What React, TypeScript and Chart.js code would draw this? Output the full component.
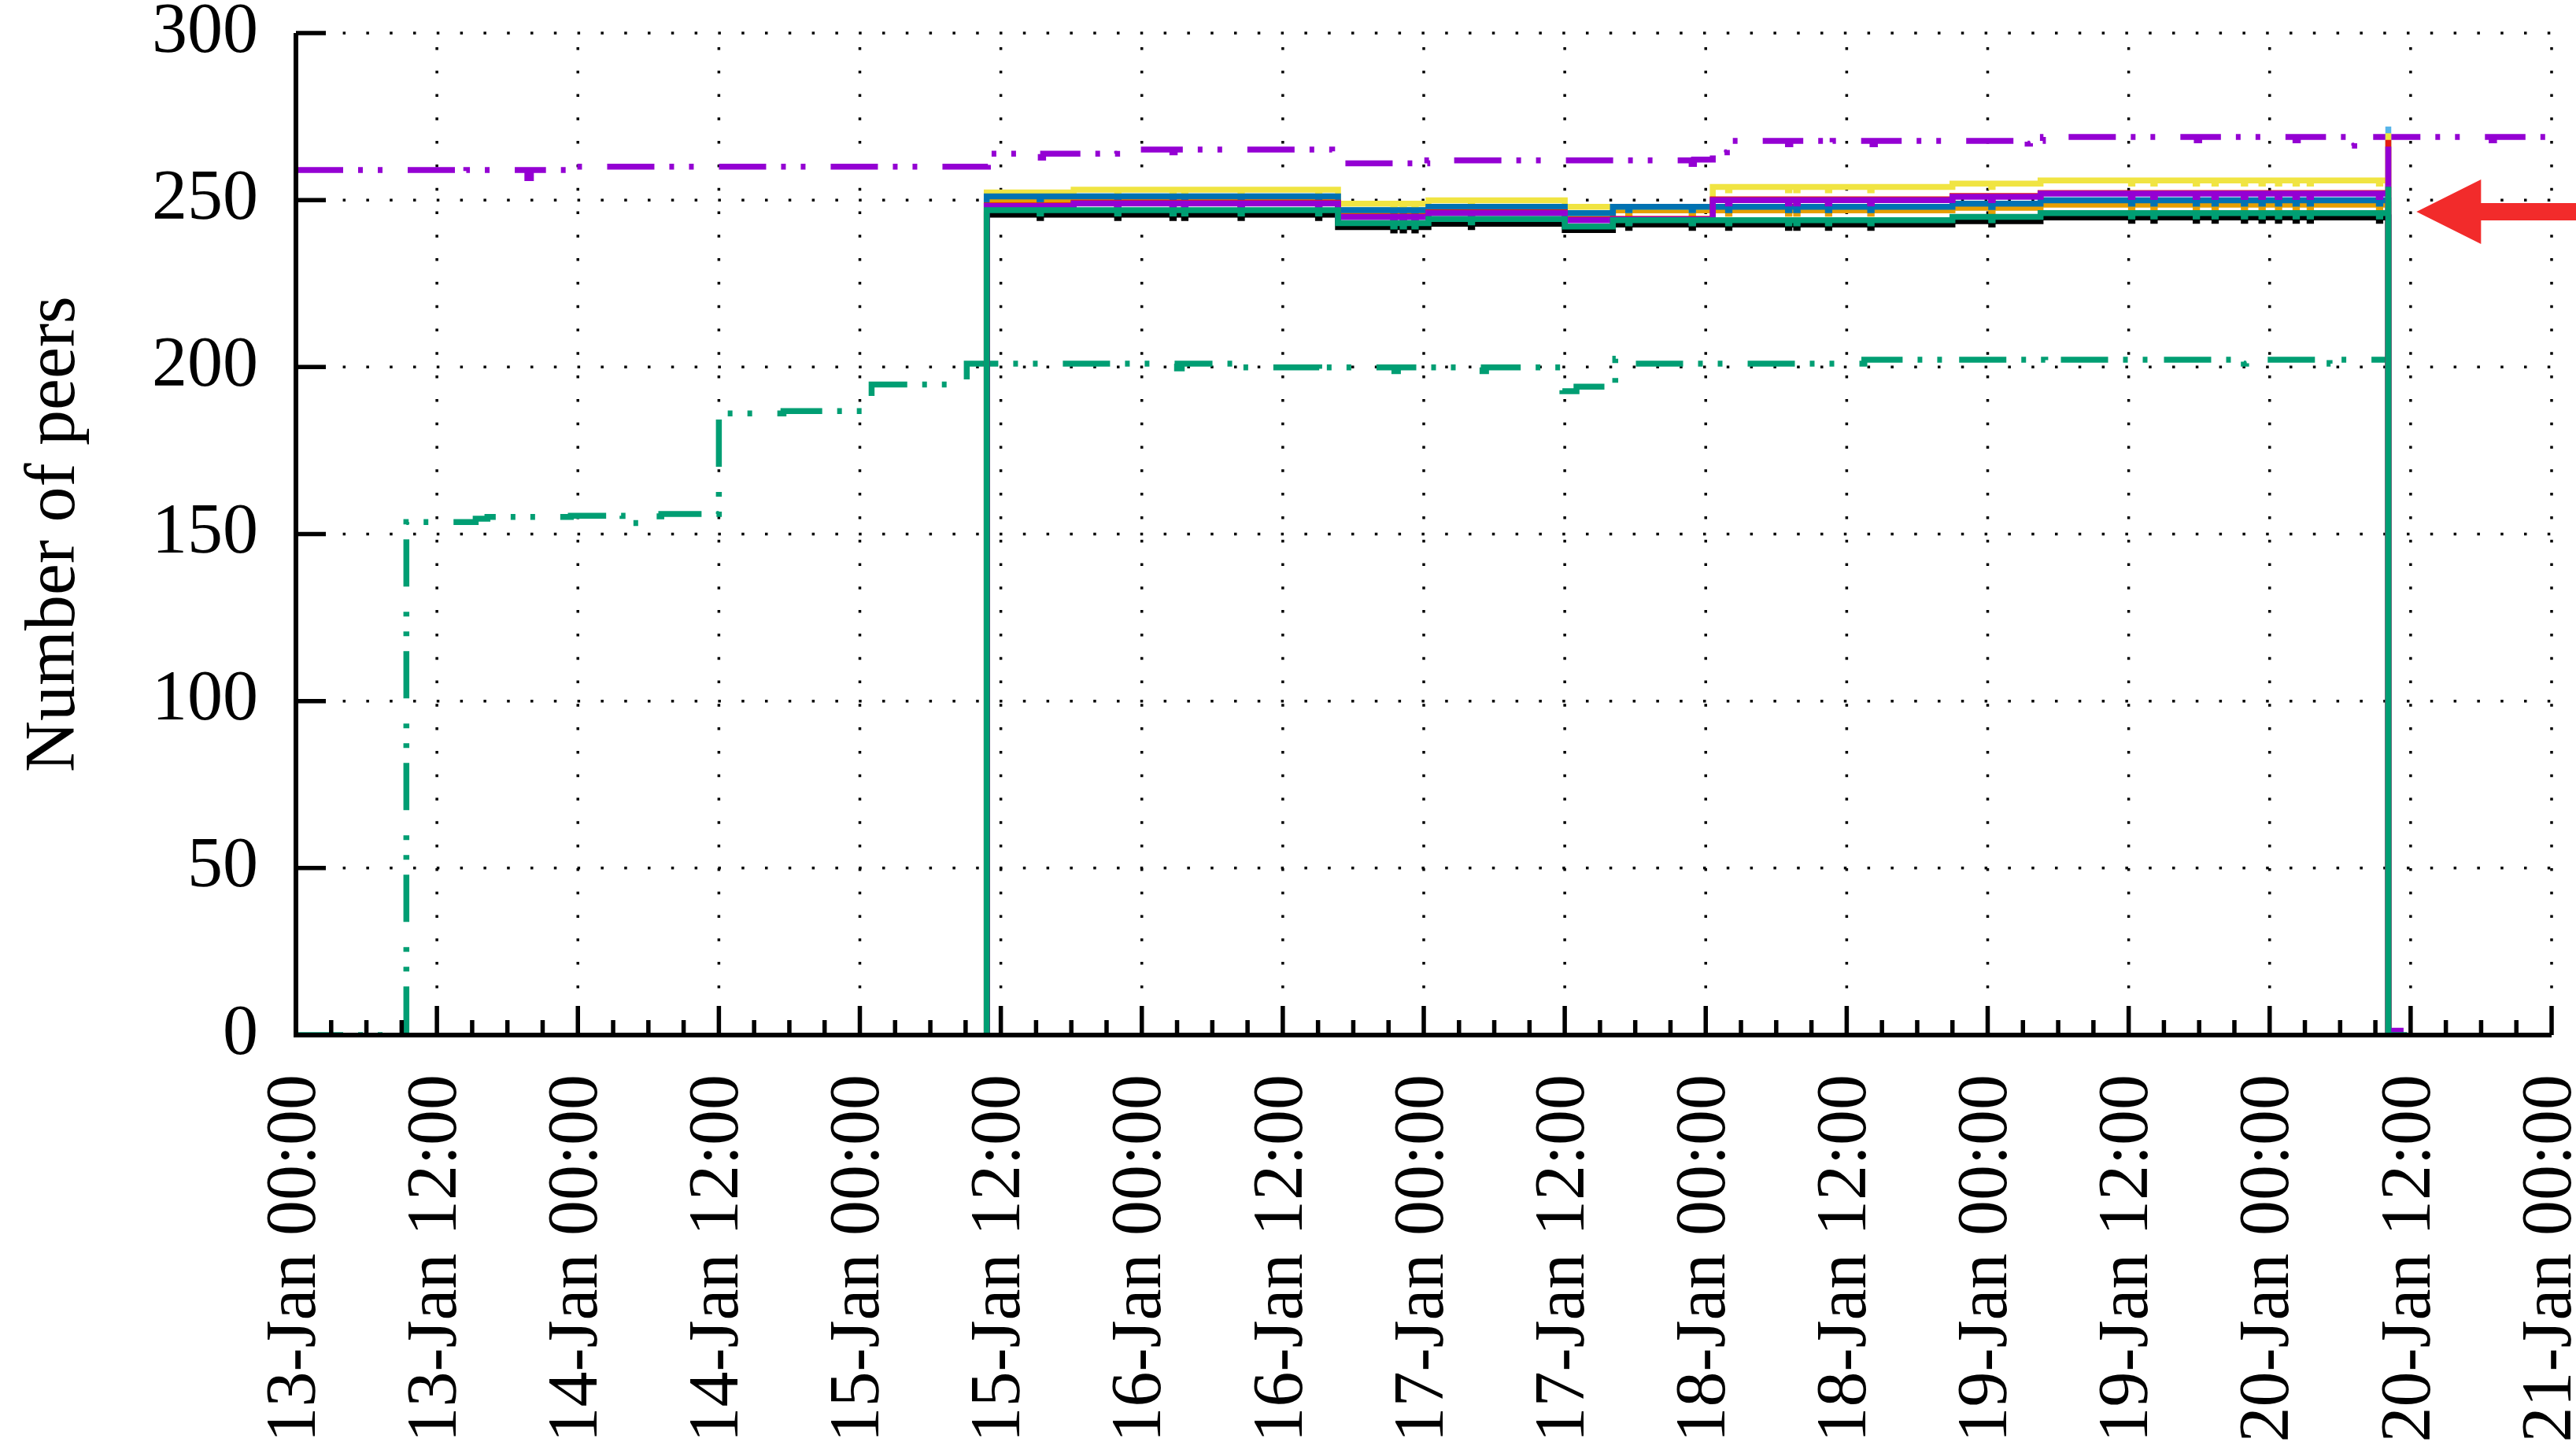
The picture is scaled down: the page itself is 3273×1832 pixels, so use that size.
import React, { useEffect, useRef } from 'react';
import { Chart, registerables } from 'chart.js';

Chart.register(...registerables);

const FONT = "'Liberation Serif', 'Times New Roman', Times, serif";
const FONT_SIZE = 90;

// x axis: hours since 13-Jan 00:00, a major tick every 12 h, minor every 3 h
const xTickHours = [0, 12, 24, 36, 48, 60, 72, 84, 96, 108, 120, 132, 144, 156, 168, 180, 192];
const xTickLabels = [
  '13-Jan 00:00', '13-Jan 12:00', '14-Jan 00:00', '14-Jan 12:00', '15-Jan 00:00',
  '15-Jan 12:00', '16-Jan 00:00', '16-Jan 12:00', '17-Jan 00:00', '17-Jan 12:00',
  '18-Jan 00:00', '18-Jan 12:00', '19-Jan 00:00', '19-Jan 12:00', '20-Jan 00:00',
  '20-Jan 12:00', '21-Jan 00:00',
];
const xMinorStepHours = 3;
const yTickValues = [0, 50, 100, 150, 200, 250, 300];

// dash-dotted series as [hour, peers]; each value holds until the next entry
const purpleDashSteps: [number, number][] = [
  [0, 259.0], [14.3, 258.3], [14.5, 259.0], [19.7, 256.6], [20.0, 259.0], [23.9, 260.0],
  [58.9, 263.9], [63.4, 262.7], [63.6, 263.9], [69.9, 265.1], [74.6, 264.3], [74.8, 265.1],
  [88.2, 261.0], [96.3, 261.9], [118.8, 260.8], [119.0, 262.1], [120.6, 264.3], [121.8, 267.7],
  [127.0, 266.7], [127.2, 267.7], [130.6, 266.7], [130.8, 267.7], [134.2, 266.7], [134.4, 267.7],
  [147.4, 266.9], [147.6, 267.7], [148.7, 268.9], [161.8, 267.9], [162.0, 268.9],
  [170.2, 267.9], [170.4, 268.9], [175.0, 266.3], [175.2, 268.9], [186.9, 267.9],
  [187.1, 268.9], [192.0, 268.9],
];

const greenDashSteps: [number, number][] = [
  [0, 0], [9.4, 153.6], [15.3, 154.6], [16.3, 155.1], [23.4, 155.5], [27.8, 153.3],
  [29.8, 155.3], [31.1, 156.0], [36.0, 186.1], [41.5, 186.8], [49.0, 194.8], [57.1, 201.0],
  [75.0, 199.6], [75.4, 201.0], [80.0, 199.9], [87.1, 198.6], [87.3, 199.9], [93.5, 198.8],
  [93.8, 199.9], [101.0, 198.8], [101.3, 199.9], [107.8, 192.8], [109.0, 194.1],
  [112.3, 202.5], [112.5, 201.0], [133.5, 202.2], [141.3, 201.0], [141.5, 202.2],
  [148.9, 200.7], [149.1, 202.2], [158.0, 200.9], [158.2, 202.2], [165.8, 201.0],
  [166.0, 202.2], [173.1, 201.0], [173.3, 202.2], [178.1, 202.2],
];

// solid series: all start, change level and stop at the same hours
const solidStartHour = 58.7;
const solidEndHour = 178.1;
const solidBreakHours = [58.8, 66.2, 88.7, 96.4, 108.0, 112.1, 120.6, 141.0, 148.5];

const lightBlueLevels = [251.1, 251.1, 247.0, 248.0, 246.1, 248.0, 248.0, 248.9, 249.9];
const orangeLevels = [249.7, 249.7, 246.2, 247.0, 246.1, 246.9, 246.9, 247.7, 248.6];
const yellowLevels = [252.3, 253.1, 248.9, 249.9, 248.0, 248.0, 253.9, 254.9, 255.9];
const blueLevels = [251.1, 251.1, 247.0, 248.0, 246.1, 248.0, 248.0, 248.9, 249.9];
const redLevels = [248.4, 249.2, 245.1, 246.3, 244.2, 244.4, 250.2, 251.2, 252.1];
const blackLevels = [245.6, 245.6, 241.9, 242.9, 241.0, 242.7, 242.7, 243.7, 244.8];
const purpleLevels = [248.2, 249.0, 244.9, 246.1, 244.0, 244.2, 250.0, 251.0, 251.9];
const greenLevels = [247.0, 247.0, 243.1, 244.3, 242.1, 244.0, 244.0, 245.0, 246.1];

// short one-peer dips shared by the solid series
const solidDipHours = [
  63.3, 69.9, 74.6, 75.6, 80.4, 87.0, 93.4, 94.2, 95.2, 100.0, 113.4, 118.8, 121.9,
  127.0, 127.7, 130.4, 134.0, 144.3, 156.2, 158.1, 161.7, 163.3, 165.8, 167.3, 168.7,
  170.2, 171.4, 177.3,
];

// last reading of each solid series before it falls to zero
const lightBluePeak = 272;
const yellowPeak = 270;
const redPeak = 268;
const purplePeak = 266;
const greenPeak = 254;

// readings after the drop
const purpleTail: [number, number][] = [[178.5, 1.3], [179.4, 1.3]];
const greenTail: [number, number][] = [[179.7, 0]];

// arrow annotation pointing at the end of the solid series
const arrowTip = { hour: 180.5, peers: 246.5 };

const COLORS = {
  purple: '#9400d3',
  green: '#009e73',
  lightBlue: '#56b4e9',
  orange: '#e69f00',
  yellow: '#f0e442',
  blue: '#0072b2',
  red: '#e51e10',
  black: '#000000',
  arrow: '#f22b2b',
};

const DASH_DOT_DOT = [60, 19, 6, 19, 6, 32];
const LINE_WIDTH = 7.5;

type Pt = { x: number; y: number };

function stepsToPoints(steps: [number, number][]): Pt[] {
  return steps.map(([x, y]) => ({ x, y }));
}

function solidPoints(levels: number[], peak: number | null, tail: [number, number][]): Pt[] {
  const pts: Pt[] = [{ x: solidStartHour, y: 0 }];
  solidBreakHours.forEach((h, i) => {
    const level = levels[i];
    pts.push({ x: h, y: level });
    const next = i + 1 < solidBreakHours.length ? solidBreakHours[i + 1] : solidEndHour;
    for (const d of solidDipHours) {
      if (d > h + 0.3 && d + 0.12 < next - 0.3) {
        pts.push({ x: d, y: level - 1 }, { x: d + 0.12, y: level });
      }
    }
  });
  if (peak !== null) pts.push({ x: solidEndHour, y: peak });
  pts.push({ x: solidEndHour, y: 0 });
  tail.forEach(([x, y]) => pts.push({ x, y }));
  return pts;
}

// dotted grid underneath, axes with inward ticks and the arrow on top
const frame = {
  id: 'frame',
  beforeDatasetsDraw(chart: any) {
    const { ctx, chartArea, scales } = chart;
    const x = scales.x;
    const y = scales.y;
    ctx.save();
    ctx.strokeStyle = '#000';
    ctx.lineWidth = 3.5;
    ctx.lineCap = 'butt';
    ctx.setLineDash([3.5, 26.3]);
    for (const v of yTickValues) {
      if (v === 0) continue;
      const py = y.getPixelForValue(v);
      ctx.beginPath();
      ctx.moveTo(chartArea.left, py);
      ctx.lineTo(chartArea.right, py);
      ctx.stroke();
    }
    for (const h of xTickHours) {
      if (h === 0) continue;
      const px = x.getPixelForValue(h);
      ctx.beginPath();
      ctx.moveTo(px, chartArea.bottom);
      ctx.lineTo(px, chartArea.top);
      ctx.stroke();
    }
    ctx.restore();
  },
  afterDatasetsDraw(chart: any) {
    const { ctx, chartArea, scales } = chart;
    const x = scales.x;
    const y = scales.y;
    const { left, right, top, bottom } = chartArea;
    ctx.save();
    ctx.setLineDash([]);
    ctx.strokeStyle = '#000';
    ctx.lineWidth = 6;
    ctx.lineJoin = 'miter';
    ctx.lineCap = 'butt';
    ctx.beginPath();
    ctx.moveTo(left, top);
    ctx.lineTo(left, bottom);
    ctx.lineTo(right, bottom);
    ctx.stroke();

    ctx.lineWidth = 5.5;
    ctx.beginPath();
    for (const v of yTickValues) {
      const py = y.getPixelForValue(v);
      ctx.moveTo(left, py);
      ctx.lineTo(left + 38, py);
    }
    for (const h of xTickHours) {
      const px = x.getPixelForValue(h);
      ctx.moveTo(px, bottom);
      ctx.lineTo(px, bottom - 37);
    }
    for (let h = xMinorStepHours; h < xTickHours[xTickHours.length - 1]; h += xMinorStepHours) {
      if (h % 12 === 0) continue;
      const px = x.getPixelForValue(h);
      ctx.moveTo(px, bottom);
      ctx.lineTo(px, bottom - 19);
    }
    ctx.stroke();

    const tx = x.getPixelForValue(arrowTip.hour);
    const ty = y.getPixelForValue(arrowTip.peers);
    const headLen = 82;
    const headHalf = 41;
    const shaftHalf = 11;
    ctx.fillStyle = COLORS.arrow;
    ctx.beginPath();
    ctx.moveTo(tx, ty);
    ctx.lineTo(tx + headLen, ty - headHalf);
    ctx.lineTo(tx + headLen, ty - shaftHalf);
    ctx.lineTo(chart.width + 5, ty - shaftHalf);
    ctx.lineTo(chart.width + 5, ty + shaftHalf);
    ctx.lineTo(tx + headLen, ty + shaftHalf);
    ctx.lineTo(tx + headLen, ty + headHalf);
    ctx.closePath();
    ctx.fill();
    ctx.restore();
  },
};

export default function App() {
  const canvasRef = useRef<HTMLCanvasElement | null>(null);

  useEffect(() => {
    document.body.style.margin = '0';
    document.body.style.overflow = 'hidden';
    const canvas = canvasRef.current;
    if (!canvas) return;

    // drawn in this order, later series on top
    const series = [
      { data: stepsToPoints(purpleDashSteps), color: COLORS.purple, dash: DASH_DOT_DOT },
      { data: stepsToPoints(greenDashSteps), color: COLORS.green, dash: DASH_DOT_DOT },
      { data: solidPoints(lightBlueLevels, lightBluePeak, []), color: COLORS.lightBlue, dash: [] },
      { data: solidPoints(orangeLevels, null, []), color: COLORS.orange, dash: [] },
      { data: solidPoints(yellowLevels, yellowPeak, []), color: COLORS.yellow, dash: [] },
      { data: solidPoints(blueLevels, null, []), color: COLORS.blue, dash: [] },
      { data: solidPoints(redLevels, redPeak, []), color: COLORS.red, dash: [] },
      { data: solidPoints(blackLevels, null, []), color: COLORS.black, dash: [] },
      { data: solidPoints(purpleLevels, purplePeak, purpleTail), color: COLORS.purple, dash: [] },
      { data: solidPoints(greenLevels, greenPeak, greenTail), color: COLORS.green, dash: [] },
    ];

    const datasets = series.map((s, i) => ({
      data: s.data,
      borderColor: s.color,
      backgroundColor: s.color,
      borderWidth: LINE_WIDTH,
      borderDash: s.dash,
      borderCapStyle: 'butt' as const,
      borderJoinStyle: 'miter' as const,
      stepped: 'before' as const,
      pointRadius: 0,
      pointHoverRadius: 0,
      fill: false,
      order: series.length - i,
    }));

    const tickFont = { family: FONT, size: FONT_SIZE };

    const chart = new Chart(canvas, {
      type: 'line',
      data: { datasets },
      options: {
        animation: false,
        responsive: false,
        devicePixelRatio: 1,
        events: [],
        layout: { padding: { left: 0, right: 31, top: 42, bottom: 0 } },
        plugins: { legend: { display: false }, tooltip: { enabled: false } },
        scales: {
          x: {
            type: 'linear',
            min: 0,
            max: 192,
            afterBuildTicks: (s: any) => {
              s.ticks = xTickHours.map((v) => ({ value: v }));
            },
            afterFit: (s: any) => {
              s.height = 517;
              s.paddingLeft = 0;
              s.paddingRight = 0;
              s.paddingTop = 0;
              s.paddingBottom = 0;
            },
            grid: { display: false, drawTicks: false },
            border: { display: false },
            ticks: {
              autoSkip: false,
              minRotation: 90,
              maxRotation: 90,
              padding: 50,
              color: '#000',
              font: tickFont,
              callback: (_v: any, index: number) => xTickLabels[index],
            },
          },
          y: {
            type: 'linear',
            min: 0,
            max: 300,
            afterBuildTicks: (s: any) => {
              s.ticks = yTickValues.map((v) => ({ value: v }));
            },
            afterFit: (s: any) => {
              s.width = 376;
              s.paddingLeft = 0;
              s.paddingRight = 0;
              s.paddingTop = 0;
              s.paddingBottom = 0;
            },
            grid: { display: false, drawTicks: false },
            border: { display: false },
            ticks: { padding: 48, color: '#000', font: tickFont },
            title: {
              display: true,
              text: 'Number of peers',
              color: '#000',
              font: tickFont,
              padding: { top: 16, bottom: 0 },
            },
          },
        },
      },
      plugins: [frame],
    });

    return () => chart.destroy();
  }, []);

  return (
    <div style={{ position: 'absolute', left: 0, top: 0, width: 3273, height: 1832, background: '#fff' }}>
      <canvas ref={canvasRef} width={3273} height={1832} style={{ display: 'block', width: 3273, height: 1832 }} />
    </div>
  );
}
